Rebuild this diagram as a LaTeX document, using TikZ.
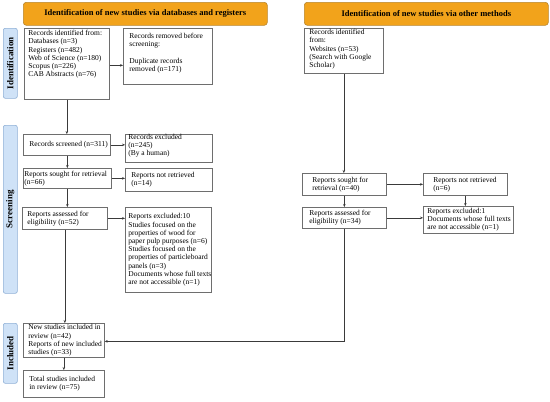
\documentclass[tikz,border=0pt]{standalone}
\usepackage{fontspec}
\setmainfont{Liberation Serif}
\usetikzlibrary{arrows.meta,calc}
\definecolor{hdrfill}{HTML}{F2A31B}
\definecolor{hdrdraw}{HTML}{B8862E}
\definecolor{sidefill}{HTML}{CFE2F7}
\definecolor{sidedraw}{HTML}{8FB0D6}
\definecolor{boxdraw}{HTML}{6E6E6E}
\definecolor{arrcol}{HTML}{3A3A3A}
\tikzset{
  box/.style={draw=boxdraw, line width=0.7pt, fill=white, anchor=north west,
    inner sep=0pt, font=\fontsize{7.5}{8.2}\selectfont, align=left},
  hdr/.style={draw=hdrdraw, fill=hdrfill, rounded corners=3pt, line width=0.6pt,
    anchor=north west, inner sep=0pt, font=\bfseries\fontsize{8.5}{9}\selectfont},
  side/.style={draw=sidedraw, fill=sidefill, rounded corners=2pt, line width=0.6pt,
    anchor=north west, inner sep=0pt},
  sidetxt/.style={rotate=90, font=\bfseries\fontsize{9}{10}\selectfont},
  arr/.style={draw=arrcol, line width=0.6pt, -{Stealth[length=3pt,width=2.6pt]}},
  ln/.style={draw=arrcol, line width=0.6pt}
}
\newcommand{\bxtop}[5]{\parbox[c][#2pt][t]{#1pt}{\raggedright\hyphenpenalty=10000\leftskip=#3pt\relax\vspace*{#4pt}#5}}
\newcommand{\bxmid}[4]{\parbox[c][#2pt][c]{#1pt}{\raggedright\hyphenpenalty=10000\leftskip=#3pt\relax #4}}
\begin{document}
\begin{tikzpicture}[x=1pt,y=1pt]
\useasboundingbox[fill=white] (0,0) rectangle (550,-402);

% headers
\node[hdr, minimum width=244pt, minimum height=23pt] (h1) at (23,-2)
  {Identification of new studies via databases and registers};
\node[hdr, minimum width=244pt, minimum height=23pt] (h2) at (304,-2)
  {Identification of new studies via other methods};

% side labels
\node[side, minimum width=14pt, minimum height=70pt] (s1) at (3,-28) {};
\node[sidetxt] (s1t) at (s1.center) {Identification};
\node[side, minimum width=14pt, minimum height=168pt] (s2) at (3,-125) {};
\node[sidetxt] (s2t) at (s2.center) {Screening};
\node[side, minimum width=14pt, minimum height=60pt] (s3) at (3,-323) {};
\node[sidetxt] (s3t) at (s3.center) {Included};

% left column
\node[box] (A) at (24,-28) {\bxtop{85}{71}{4}{2}{Records identified from:\\Databases (n=3)\\Registers (n=482)\\Web of Science (n=180)\\Scopus (n=226)\\CAB Abstracts (n=76)}};
\node[box] (B) at (123,-28) {\bxtop{89}{56}{6}{5}{Records removed before\\screening:\\[8.2pt]Duplicate records\\removed (n=171)}};
\node[box] (C) at (23,-134) {\bxmid{87}{21}{6}{Records screened (n=311)}};
\node[box] (D) at (125,-134) {\bxtop{87}{28}{3}{0}{Records excluded\\(n=245)\\(By a human)}};
\node[box] (E) at (23,-168) {\bxmid{88}{20}{1}{Reports sought for retrieval\\(n=66)}};
\node[box] (F) at (125,-168) {\bxmid{87}{23}{6}{Reports not retrieved\\(n=14)}};
\node[box] (G) at (22,-207) {\bxmid{85}{22}{5}{Reports assessed for\\eligibility (n=52)}};
\node[box] (H) at (125,-207) {\bxmid{86}{85}{3}{Reports excluded:10\\Studies focused on the\\properties of wood for\\paper pulp purposes (n=6)\\Studies focused on the\\properties of particleboard\\panels (n=3)\\Documents whose full texts\\are not accessible (n=1)}};
\node[box] (I) at (23,-323) {\bxmid{81}{34}{5}{New studies included in\\review (n=42)\\Reports of new included\\studies (n=33)}};
\node[box] (J) at (23,-370) {\bxmid{81}{27}{6}{Total studies included\\in review (n=75)}};

% right column
\node[box] (K) at (304,-28) {\bxtop{79}{45}{5}{1}{Records identified\\from:\\Websites (n=53)\\(Search with Google\\Scholar)}};
\node[box] (L) at (302,-173) {\bxmid{84}{22}{10}{Reports sought for\\retrieval (n=40)}};
\node[box] (M) at (423,-173) {\bxmid{84}{22}{10}{Reports not retrieved\\(n=6)}};
\node[box] (N) at (302,-207) {\bxmid{84}{21}{7}{Reports assessed for\\eligibility (n=34)}};
\node[box] (O) at (423,-206) {\bxmid{90}{27}{4}{Reports excluded:1\\Documents whose full texts\\are not accessible (n=1)}};

% connectors left
\draw[arr] (A.south) -- (A.south |- C.north);
\draw[arr] (A.east) ++(0,-1.5) coordinate (ab1) -- (ab1 -| B.west);
\draw[arr] (C.east) -- (C.east -| D.west);
\draw[arr] (E.north |- C.south) -- (E.north);
\draw[arr] (E.east) -- (E.east -| F.west);
\draw[arr] (E.south) -- (E.south |- G.north);
\draw[arr] (G.east) -- (G.east -| H.west);
\draw[arr] (G.south) -- (G.south |- I.north);
\draw[arr] (I.south) -- (I.south |- J.north);

% connectors right
\draw[arr] (K.south) -- (K.south |- L.north);
\draw[arr] (L.east) -- (L.east -| M.west);
\draw[arr] (L.south) -- (L.south |- N.north);
\draw[arr] (N.east) -- (N.east -| O.west);
\draw[arr] (M.south) -- (M.south |- O.north);
\draw[arr] (N.south) -- ($(N.south |- I.east)+(0,-1)$) coordinate (nc) -- (nc -| I.east);
\end{tikzpicture}
\end{document}
